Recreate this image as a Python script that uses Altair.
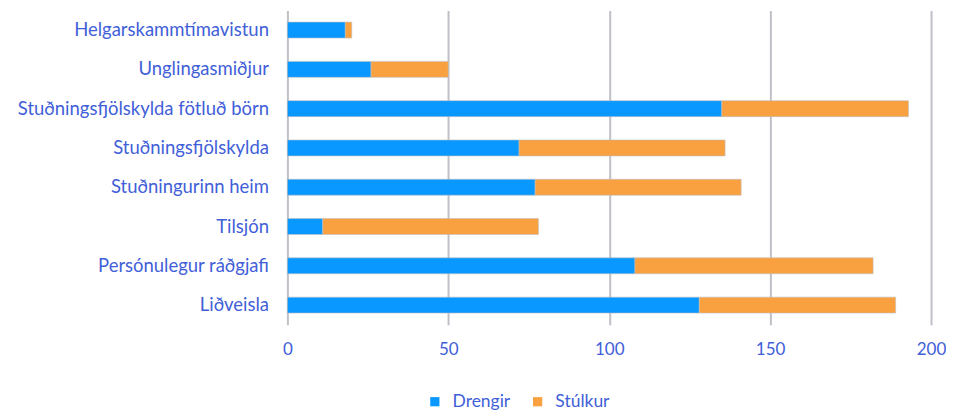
import altair as alt
import pandas as pd

categories = [
    "Helgarskammtímavistun",
    "Unglingasmiðjur",
    "Stuðningsfjölskylda fötluð börn",
    "Stuðningsfjölskylda",
    "Stuðningurinn heim",
    "Tilsjón",
    "Persónulegur ráðgjafi",
    "Liðveisla",
]
drengir = [18, 26, 135, 72, 77, 11, 108, 128]
stulkur = [2, 24, 58, 64, 64, 67, 74, 61]
series = ["Drengir", "Stúlkur"]
colors = ["#0898FF", "#F9A040"]
x_ticks = [0, 50, 100, 150, 200]

rows = []
for i, c in enumerate(categories):
    rows.append({"cat": c, "group": series[0], "value": drengir[i], "ord": 0})
    rows.append({"cat": c, "group": series[1], "value": stulkur[i], "ord": 1})
df = pd.DataFrame(rows)

FONT = "Lato"
TXT = "#3F60D8"

chart = (
    alt.Chart(df)
    .mark_bar(size=16, stroke="#c0c0c0", strokeWidth=0.6)
    .encode(
        y=alt.Y(
            "cat:N",
            sort=categories,
            title=None,
            scale=alt.Scale(paddingInner=0, paddingOuter=0),
            axis=alt.Axis(
                labelFontSize=18.5,
                labelFont=FONT,
                labelColor=TXT,
                labelPadding=19,
                domain=False,
                ticks=False,
                grid=False,
                labelLimit=400,
            ),
        ),
        x=alt.X(
            "value:Q",
            stack="zero",
            title=None,
            scale=alt.Scale(domain=[0, 200], nice=False),
            axis=alt.Axis(
                values=x_ticks,
                grid=True,
                gridColor="#BFC0C8",
                gridWidth=2,
                domain=False,
                ticks=False,
                labelPadding=17,
                labelFontSize=17,
                labelFont=FONT,
                labelColor=TXT,
                labelFlush=False,
            ),
        ),
        color=alt.Color(
            "group:N",
            scale=alt.Scale(domain=series, range=colors),
            legend=alt.Legend(
                orient="none",
                legendX=139,
                legendY=383,
                direction="horizontal",
                title=None,
                symbolType="square",
                symbolSize=85,
                symbolStrokeWidth=0,
                labelOffset=9,
                labelFontSize=17.5,
                labelFont=FONT,
                labelColor=TXT,
                columnPadding=18,
            ),
        ),
        order=alt.Order("ord:Q"),
    )
    .properties(
        width=645,
        height=315,
        padding={"left": 9, "top": 2, "right": 0, "bottom": 0},
    )
    .configure_view(stroke=None)
)

chart.save("out.html", embed_options={"renderer": "svg", "actions": False})
